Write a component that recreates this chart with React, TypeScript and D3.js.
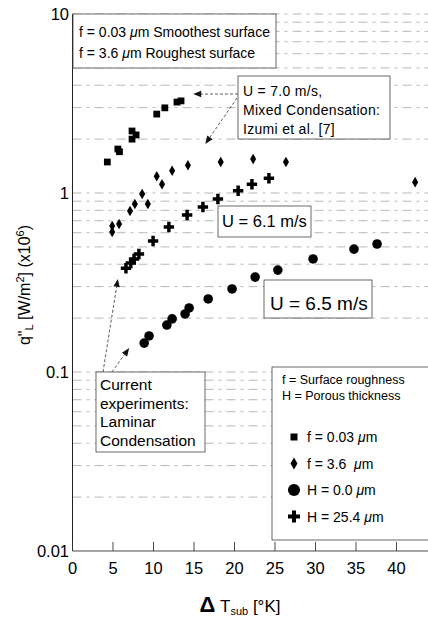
import React from 'react';
import * as d3 from 'd3';

// f = 0.03 um (squares), Izumi et al.
const squareX = [4.3, 5.6, 5.8, 7.35, 7.85, 7.35, 10.4, 11.4, 12.9, 13.4];
const squareY = [1.49, 1.76, 1.7, 2.22, 2.11, 2.0, 2.76, 2.99, 3.22, 3.27];
// f = 3.6 um (diamonds), Izumi et al.
const diamondX = [4.9, 4.9, 5.75, 7.1, 7.7, 8.6, 9.3, 10.4, 11.05, 12.3, 14.25, 18.3, 22.3, 26.35, 42.3];
const diamondY = [0.654, 0.605, 0.671, 0.793, 0.868, 0.987, 0.868, 1.24, 1.12, 1.33, 1.43, 1.49, 1.55, 1.49, 1.15];
// H = 25.4 um (crosses), U = 6.1 m/s
const crossX = [6.6, 7.2, 7.6, 8.2, 9.95, 11.9, 14.15, 16.1, 17.95, 20.45, 22.15, 24.25];
const crossY = [0.38, 0.406, 0.428, 0.456, 0.539, 0.646, 0.754, 0.835, 0.926, 1.03, 1.12, 1.21];
// H = 0.0 um (circles), U = 6.5 m/s
const circleX = [8.85, 9.45, 11.65, 12.3, 13.9, 14.4, 16.75, 19.7, 22.55, 25.35, 29.7, 34.75, 37.6];
const circleY = [0.145, 0.159, 0.183, 0.198, 0.211, 0.228, 0.256, 0.291, 0.339, 0.371, 0.428, 0.486, 0.519];

const xTicks = [0, 5, 10, 15, 20, 25, 30, 35, 40];
const yTicks = [10, 1, 0.1, 0.01];
const yTickLabels = ['10', '1', '0.1', '0.01'];

// arrow tips in data units
const izumiTips = [[14.9, 3.57], [16.4, 1.88]];
const currentTips = [[5.6, 0.331], [7.0, 0.136]];

const W = 428;
const H = 619;
const FONT = '"Liberation Sans", Arial, Helvetica, sans-serif';

const x = d3.scaleLinear().domain([0, 44]).range([72.5, 428.9]);
const y = d3.scaleLog().domain([0.01, 10]).range([551, 14]);

const sym = (type, size) => d3.symbol().type(type).size(size)();

const Arrow = ({ x1, y1, x2, y2 }) => {
  const a = Math.atan2(y2 - y1, x2 - x1);
  const len = 8, half = 3.2;
  const bx = x2 - len * Math.cos(a), by = y2 - len * Math.sin(a);
  const p = [
    [x2, y2],
    [bx + half * Math.sin(a), by - half * Math.cos(a)],
    [bx - half * Math.sin(a), by + half * Math.cos(a)],
  ];
  return (
    <g>
      <line x1={x1} y1={y1} x2={bx} y2={by} stroke="#333" strokeWidth={0.8} strokeDasharray="3 2" />
      <polygon points={p.map(d => d.join(',')).join(' ')} fill="#111" />
    </g>
  );
};

const Box = ({ x0, y0, x1, y1 }) => (
  <rect x={x0} y={y0} width={x1 - x0} height={y1 - y0} fill="#fff" stroke="#444" strokeWidth={0.8} />
);

export default function App() {
  const gridVals = y.ticks().filter(v => v > 0.0101);

  const mu = <tspan fontStyle="italic">μ</tspan>;

  return (
    <svg width={W} height={H} style={{ position: 'absolute', left: 0, top: 0, background: '#fff' }}
      fontFamily={FONT}>
      {/* grid */}
      {gridVals.map((v, i) => (
        <line key={i} x1={x(0)} x2={W} y1={y(v)} y2={y(v)} stroke="#999" strokeWidth={0.7}
          strokeDasharray="9 5 3 5" />
      ))}

      {/* axes */}
      <line x1={x(0)} x2={x(0)} y1={y(10)} y2={y(0.01)} stroke="#222" strokeWidth={1} />
      <line x1={x(0)} x2={W} y1={y(0.01)} y2={y(0.01)} stroke="#333" strokeWidth={0.9} />
      {xTicks.map(t => (
        <g key={t}>
          <line x1={x(t)} x2={x(t)} y1={y(0.01)} y2={y(0.01) - 9} stroke="#333" strokeWidth={0.9} />
          <text x={x(t)} y={574} textAnchor="middle" fontSize={16.5}>{t}</text>
        </g>
      ))}
      {yTicks.map((t, i) => (
        <text key={t} x={69} y={y(t) + 5.5} textAnchor="end" fontSize={16.5}>{yTickLabels[i]}</text>
      ))}

      {/* axis titles */}
      <text x={240} y={612} textAnchor="middle" fontSize={17}>
        <tspan fontSize={22} fontWeight="bold">Δ</tspan>
        <tspan> T</tspan>
        <tspan fontSize={11} dy={3}>sub</tspan>
        <tspan dy={-3}> [°K]</tspan>
      </text>
      <text transform="translate(30,285) rotate(-90)" textAnchor="middle" fontSize={16}>
        <tspan>q"</tspan>
        <tspan fontSize={11} dy={3}>L</tspan>
        <tspan dy={-3}>  [W/m</tspan>
        <tspan fontSize={11} dy={-6}>2</tspan>
        <tspan dy={6}>]  (x10</tspan>
        <tspan fontSize={11} dy={-6}>6</tspan>
        <tspan dy={6}>)</tspan>
      </text>

      {/* annotation boxes */}
      <Box x0={73} y0={14} x1={276} y1={68} />
      <text x={79} y={37} fontSize={14}>f = 0.03 {mu}m Smoothest surface</text>
      <text x={79} y={58} fontSize={14}>f = 3.6 {mu}m Roughest surface</text>

      <Box x0={238} y0={76} x1={390} y1={139} />
      <text x={243} y={96} fontSize={14} letterSpacing={0.3}>U = 7.0 m/s,</text>
      <text x={243} y={115} fontSize={14} letterSpacing={0.3}>Mixed Condensation:</text>
      <text x={243} y={134} fontSize={14} letterSpacing={0.3}>Izumi et al. [7]</text>
      <Arrow x1={238} y1={94} x2={x(izumiTips[0][0])} y2={y(izumiTips[0][1])} />
      <Arrow x1={237} y1={98} x2={x(izumiTips[1][0])} y2={y(izumiTips[1][1])} />

      <Box x0={218} y0={206} x1={311} y1={237} />
      <text x={222} y={227} fontSize={16.5}>U = 6.1 m/s</text>

      <Box x0={264} y0={280} x1={372} y1={318} />
      <text x={270} y={310} fontSize={19}>U = 6.5 m/s</text>

      <Box x0={96} y0={372} x1={205} y1={452} />
      {['Current', 'experiments:', 'Laminar', 'Condensation'].map((s, i) => (
        <text key={s} x={100} y={390 + i * 18.7} fontSize={15.5}>{s}</text>
      ))}
      <Arrow x1={103} y1={372} x2={x(currentTips[0][0])} y2={y(currentTips[0][1])} />
      <Arrow x1={112} y1={372} x2={x(currentTips[1][0])} y2={y(currentTips[1][1])} />

      {/* legend */}
      <Box x0={272} y0={367} x1={W + 2} y1={540} />
      <text x={282} y={384} fontSize={12.5}>f = Surface roughness</text>
      <text x={282} y={400} fontSize={12.5}>H = Porous thickness</text>
      {[
        [d3.symbolSquare, 49, ['f = 0.03 ', 'm']],
        [d3.symbolDiamond, 42, ['f = 3.6  ', 'm']],
        [d3.symbolCircle, 115, ['H = 0.0 ', 'm']],
        [d3.symbolCross, 80, ['H = 25.4 ', 'm']],
      ].map(([t, s, lab], i) => (
        <g key={i}>
          <path d={sym(t, s)} transform={`translate(294,${437 + i * 26.5})`} fill="#000" />
          <text x={307} y={442 + i * 26.5} fontSize={14} style={{ whiteSpace: 'pre' }}>
            {lab[0]}{mu}{lab[1]}
          </text>
        </g>
      ))}

      {/* data */}
      {squareX.map((v, i) => (
        <path key={'s' + i} d={sym(d3.symbolSquare, 46)} transform={`translate(${x(v)},${y(squareY[i])})`} fill="#000" />
      ))}
      {diamondX.map((v, i) => (
        <path key={'d' + i} d={sym(d3.symbolDiamond, 32)} transform={`translate(${x(v)},${y(diamondY[i])})`} fill="#000" />
      ))}
      {crossX.map((v, i) => (
        <path key={'c' + i} d={sym(d3.symbolCross, 60)} transform={`translate(${x(v)},${y(crossY[i])})`} fill="#000" />
      ))}
      {circleX.map((v, i) => (
        <circle key={'o' + i} cx={x(v)} cy={y(circleY[i])} r={4.8} fill="#000" />
      ))}
    </svg>
  );
}
